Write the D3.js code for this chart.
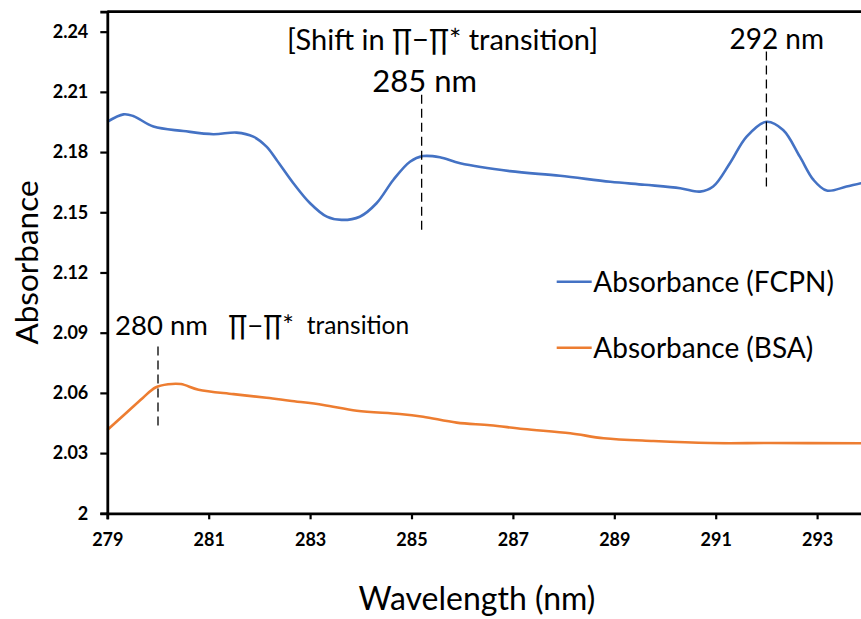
<!DOCTYPE html>
<html>
<head>
<meta charset="utf-8">
<script src="https://cdn.jsdelivr.net/npm/d3@7"></script>
<style>
  html, body { margin: 0; padding: 0; background: #fff; }
  svg { display: block; font-family: Lato, "Open Sans", sans-serif; }
</style>
</head>
<body>
<svg id="chart" width="861" height="619"></svg>
<script>
// Wavelength (nm) and absorbance of the FCPN sample
const fcpnWavelength = [279.00, 279.32, 279.51, 279.91, 280.50, 281.09, 281.55, 281.88, 282.14, 282.34,
  282.67, 283.00, 283.33, 283.62, 283.98, 284.31, 284.64, 284.97, 285.23, 285.56, 285.96, 286.94,
  287.93, 288.92, 289.60, 290.30, 290.69, 290.95, 291.28, 291.61, 292.00, 292.33, 292.66, 292.93,
  293.19, 293.58, 293.87, 294.00];
const fcpnAbsorbance = [2.1951, 2.1988, 2.1980, 2.1927, 2.1905, 2.1889, 2.1897, 2.1877, 2.1827, 2.1761,
  2.1645, 2.1545, 2.1478, 2.1462, 2.1478, 2.1545, 2.1661, 2.1752, 2.1780, 2.1774, 2.1744, 2.1705,
  2.1682, 2.1652, 2.1637, 2.1620, 2.1603, 2.1628, 2.1744, 2.1877, 2.1951, 2.1910, 2.1777, 2.1661,
  2.1608, 2.1628, 2.1645, 2.1648];

// Wavelength (nm) and absorbance of BSA
const bsaWavelength = [279.00, 279.35, 279.70, 279.95, 280.20, 280.45, 280.80, 281.49, 282.14, 282.60,
  283.26, 283.92, 284.77, 285.23, 285.89, 286.55, 287.21, 288.13, 288.79, 289.77, 290.89, 292.07,
  293.85, 294.00];
const bsaAbsorbance = [2.0415, 2.0495, 2.0575, 2.0627, 2.0643, 2.0644, 2.0616, 2.0594, 2.0576, 2.0561,
  2.0540, 2.0511, 2.0495, 2.0481, 2.0452, 2.0439, 2.0420, 2.0399, 2.0374, 2.0360, 2.0350, 2.0350,
  2.0349, 2.0349];

const seriesNames = ["Absorbance (FCPN)", "Absorbance (BSA)"];
const seriesColors = ["#4472C4", "#ED7D31"];

const xTicks = [279, 281, 283, 285, 287, 289, 291, 293];
const yTicks = [2, 2.03, 2.06, 2.09, 2.12, 2.15, 2.18, 2.21, 2.24];

// Peak markers: wavelength, dashed line span (absorbance)
const markerWavelength = [280, 285.2, 292];
const markerTop = [2.0831, 2.2086, 2.2301];
const markerBottom = [2.0430, 2.1403, 2.1621];

const svg = d3.select("#chart");
const plotLeft = 107.3, plotRight = 867.8, plotTop = 11.6, plotBottom = 513.3;

const x = d3.scaleLinear().domain([279, 294]).range([plotLeft, plotRight]);
const y = d3.scaleLinear().domain([2, 2.25]).range([plotBottom, plotTop]);

// Smoothed spectra
const line = d3.line()
  .x(d => x(d[0]))
  .y(d => y(d[1]))
  .curve(d3.curveCatmullRom.alpha(0.5));

const series = [
  d3.zip(fcpnWavelength, fcpnAbsorbance),
  d3.zip(bsaWavelength, bsaAbsorbance)
];

svg.append("g").selectAll("path")
  .data(series)
  .join("path")
  .attr("d", line)
  .attr("fill", "none")
  .attr("stroke", (d, i) => seriesColors[i])
  .attr("stroke-width", 2.6)
  .attr("stroke-linejoin", "round");

// Axes
const xAxis = svg.append("g")
  .attr("transform", `translate(0,${plotBottom})`)
  .call(d3.axisBottom(x).tickValues(xTicks).tickFormat(d3.format("d")).tickSizeOuter(0).tickSize(6).tickPadding(14));
const yAxis = svg.append("g")
  .attr("transform", `translate(${plotLeft},0)`)
  .call(d3.axisLeft(y).tickValues(yTicks).tickFormat(d => d === 2 ? "2" : d3.format(".2f")(d)).tickSizeOuter(0).tickSize(7).tickPadding(12));

[xAxis, yAxis].forEach(g => {
  g.select(".domain").attr("stroke", "#000").attr("stroke-width", 2.8);
  g.selectAll(".tick line").attr("stroke", "#000").attr("stroke-width", 2.2);
  g.selectAll(".tick text")
    .attr("fill", "#000")
    .style("font-family", "Lato, sans-serif")
    .style("font-weight", "bold")
    .style("font-size", "18px");
});

// Top border of the plot area
svg.append("line")
  .attr("x1", plotLeft).attr("x2", plotRight)
  .attr("y1", y(2.25)).attr("y2", y(2.25))
  .attr("stroke", "#000").attr("stroke-width", 2.8);

// Axis titles
svg.append("text")
  .attr("x", 477).attr("y", 610)
  .attr("text-anchor", "middle")
  .style("font-size", "32px")
  .text("Wavelength (nm)");
svg.append("text")
  .attr("transform", "translate(38,262.5) rotate(-90)")
  .attr("text-anchor", "middle")
  .style("font-size", "31.5px")
  .text("Absorbance");

// Dashed peak markers
svg.append("g").selectAll("line")
  .data(markerWavelength)
  .join("line")
  .attr("x1", d => x(d)).attr("x2", d => x(d))
  .attr("y1", (d, i) => y(markerTop[i]))
  .attr("y2", (d, i) => y(markerBottom[i]))
  .attr("stroke", "#000")
  .attr("stroke-width", 1.3)
  .attr("stroke-dasharray", "9,5");

// Annotation texts
const ann = svg.append("g").attr("fill", "#000");
ann.append("text").attr("x", 442.5).attr("y", 50).attr("text-anchor", "middle")
  .style("font-size", "29px").text("[Shift in \u220F\u2212\u220F* transition]");
ann.append("text").attr("x", 424.7).attr("y", 91.7).attr("text-anchor", "middle")
  .style("font-size", "31px").text("285 nm");
ann.append("text").attr("x", 776.7).attr("y", 49.3).attr("text-anchor", "middle")
  .style("font-size", "28px").text("292 nm");
ann.append("text").attr("x", 115).attr("y", 335)
  .style("font-size", "27.5px").text("280 nm");
ann.append("text").attr("x", 228.3).attr("y", 335)
  .style("font-size", "27.5px").text("\u220F\u2212\u220F*");
ann.append("text").attr("x", 306.7).attr("y", 334)
  .style("font-size", "24.5px").text("transition");

// Legend
const legendY = [281.7, 347.7];
const legend = svg.append("g").selectAll("g")
  .data(seriesNames)
  .join("g")
  .attr("transform", (d, i) => `translate(0,${legendY[i]})`);
legend.append("line")
  .attr("x1", 556.7).attr("x2", 591.7)
  .attr("stroke", (d, i) => seriesColors[i])
  .attr("stroke-width", 2.6);
legend.append("text")
  .attr("x", 593.3).attr("y", 10)
  .style("font-size", "28px")
  .text(d => d);
</script>
</body>
</html>
